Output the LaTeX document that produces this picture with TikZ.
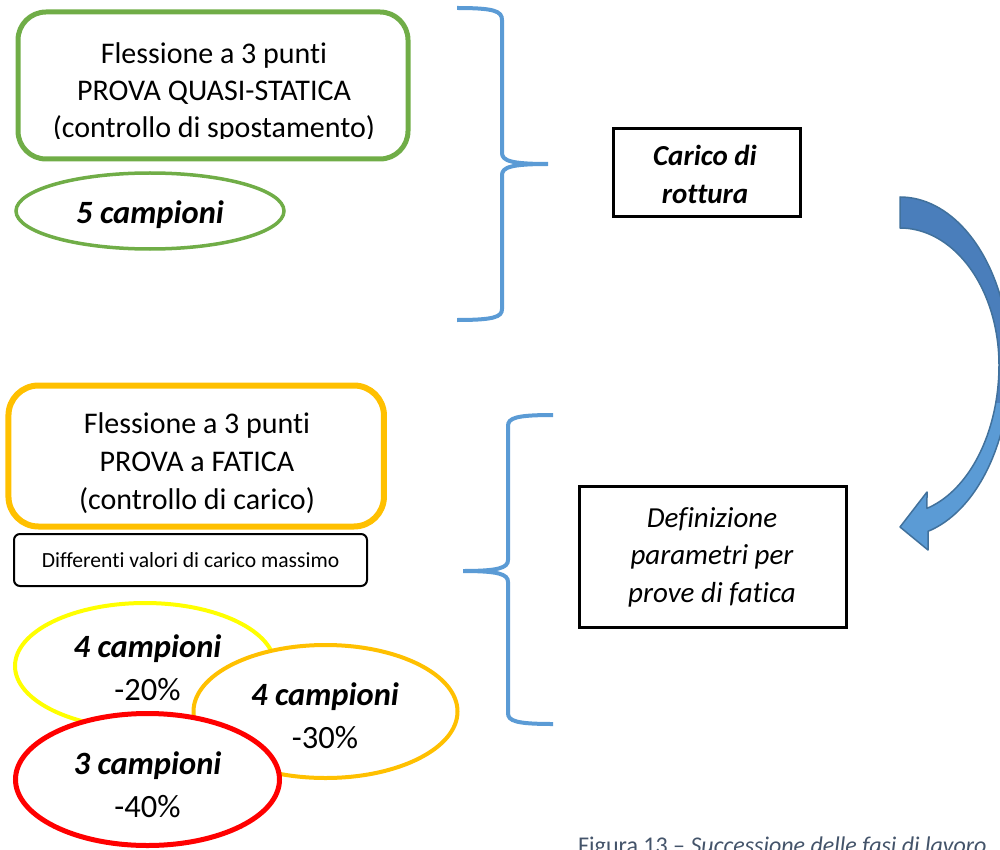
\documentclass[tikz,border=0pt]{standalone}
\usepackage{fontspec}
\setmainfont{Carlito}[Ligatures={TeX,NoCommon}]
\usetikzlibrary{shapes.geometric}
\definecolor{qsgreen}{HTML}{70AD47}
\definecolor{fatorange}{HTML}{FFC000}
\definecolor{ylw}{HTML}{FFFF00}
\definecolor{rd}{HTML}{FF0000}
\definecolor{braceblue}{HTML}{5B9BD5}
\definecolor{arrdark}{HTML}{4A7EBB}
\definecolor{arrlight}{HTML}{5B9BD5}
\definecolor{arredge}{HTML}{41719C}
\definecolor{capgray}{HTML}{44546A}
\newcommand\curvarr{plot[domain=0:90,samples=40,variable=\t] ({900+110*sin(\t)},{365-168*cos(\t)}) -- plot[domain=90:165.25,samples=40,variable=\t] ({900+110*sin(\t)},{365-172*cos(\t)}) -- (928,550) -- (900,527) -- (927,492) -- plot[domain=164.2:90,samples=40,variable=\t] ({900+99*sin(\t)},{365-149*cos(\t)}) -- plot[domain=90:0,samples=40,variable=\t] ({900+99*sin(\t)},{365-137*cos(\t)}) -- cycle}
\begin{document}
\begin{tikzpicture}[x=1pt,y=-1pt,
  main/.style={font=\fontsize{30}{37}\selectfont, align=center, inner sep=0pt},
  rbox/.style={draw, rounded corners=28pt, line width=5pt, inner sep=0pt},
  sqbox/.style={draw=black, line width=3pt, inner sep=0pt},
  oval/.style={ellipse, draw, fill=white, inner sep=0pt, line width=4pt},
  ovaltext/.style={font=\fontsize{32.5}{43}\selectfont, align=center, inner sep=0pt, anchor=base},
  bracepath/.style={draw=braceblue, line width=4pt},
]
\useasboundingbox (0,0) rectangle (1000,850);
\clip (0,0) rectangle (1000,850);

% --- quasi-static block
\node[rbox, draw=qsgreen, minimum width=390pt, minimum height=147pt] (qsbox) at (213,85.5) {};
\begin{scope}
  \clip (0,0) rectangle (420,139);
  \node[main, anchor=base] (qstext) at (214,137.5) {Flessione a 3 punti\\PROVA QUASI-STATICA\\(controllo di spostamento)};
\end{scope}
\node[oval, draw=qsgreen, line width=3.5pt, minimum width=268pt, minimum height=76pt] (five) at (150,211) {};
\node[ovaltext, font=\fontsize{32.5}{43}\selectfont\bfseries\itshape] (fivetext) at (150,224) {5 campioni};

% --- brace 1
\draw[bracepath] (457,8) .. controls (494,8) and (502,11) .. (502,20) -- (502,153)
  .. controls (502,161) and (512,164) .. (548,164)
  .. controls (512,164) and (502,167) .. (502,175) -- (502,309)
  .. controls (502,317) and (494,320) .. (457,320);

% --- carico di rottura
\node[sqbox, minimum width=187pt, minimum height=88pt] (carico) at (707,172.5) {};
\node[main, anchor=base, font=\fontsize{29}{38}\selectfont\bfseries\itshape] (caricotext) at (705,204) {Carico di\\rottura};

% --- curved arrow
\fill[arrlight] \curvarr;
\begin{scope}
  \clip (850,150) rectangle (1010,402);
  \fill[arrdark] \curvarr;
\end{scope}
\draw[arredge, line width=1.5pt, line join=round] \curvarr;

% --- fatigue block
\node[rbox, draw=fatorange, line width=6pt, minimum width=375.5pt, minimum height=141pt, rounded corners=30pt] (fabox) at (196.2,456) {};
\node[main, anchor=base, font=\fontsize{30}{38}\selectfont] (fatext) at (197,509) {Flessione a 3 punti\\PROVA a FATICA\\(controllo di carico)};
\node[draw=black, line width=2pt, rounded corners=6pt, minimum width=353pt, minimum height=52pt, inner sep=0pt, font=\fontsize{21.6}{25}\selectfont] (diff) at (190.5,560) {Differenti valori di carico massimo};

% --- ellipses
\node[oval, draw=ylw, minimum width=260pt, minimum height=126pt] (e20) at (145,666) {};
\node[ovaltext] (t20) at (147.5,700) {\textbf{\textit{4 campioni}}\\-20\%};
\node[oval, draw=fatorange, minimum width=264pt, minimum height=133pt] (e30) at (325.5,711.5) {};
\node[ovaltext] (t30) at (325,748) {\textbf{\textit{4 campioni}}\\-30\%};
\node[oval, draw=rd, line width=5pt, minimum width=264pt, minimum height=132pt] (e40) at (147.5,779.5) {};
\node[ovaltext] (t40) at (147.5,817) {\textbf{\textit{3 campioni}}\\-40\%};

% --- brace 2
\draw[bracepath] (553,415) .. controls (516,415) and (508,418) .. (508,426) -- (508,560)
  .. controls (508,568) and (498,571) .. (463,571)
  .. controls (498,571) and (508,574) .. (508,582) -- (508,713)
  .. controls (508,721) and (516,724) .. (553,724);

% --- definizione
\node[sqbox, minimum width=267pt, minimum height=140.5pt] (defbox) at (713,556.8) {};
\node[main, anchor=base, font=\fontsize{29}{37.5}\selectfont\itshape] (deftext) at (712,602) {Definizione\\parametri per\\prove di fatica};

% --- caption
\node[anchor=base west, inner sep=0pt, text=capgray, font=\fontsize{24}{28}\selectfont] (caption) at (578,853) {Figura 13 – \textit{Successione delle fasi di lavoro}};
\end{tikzpicture}
\end{document}
